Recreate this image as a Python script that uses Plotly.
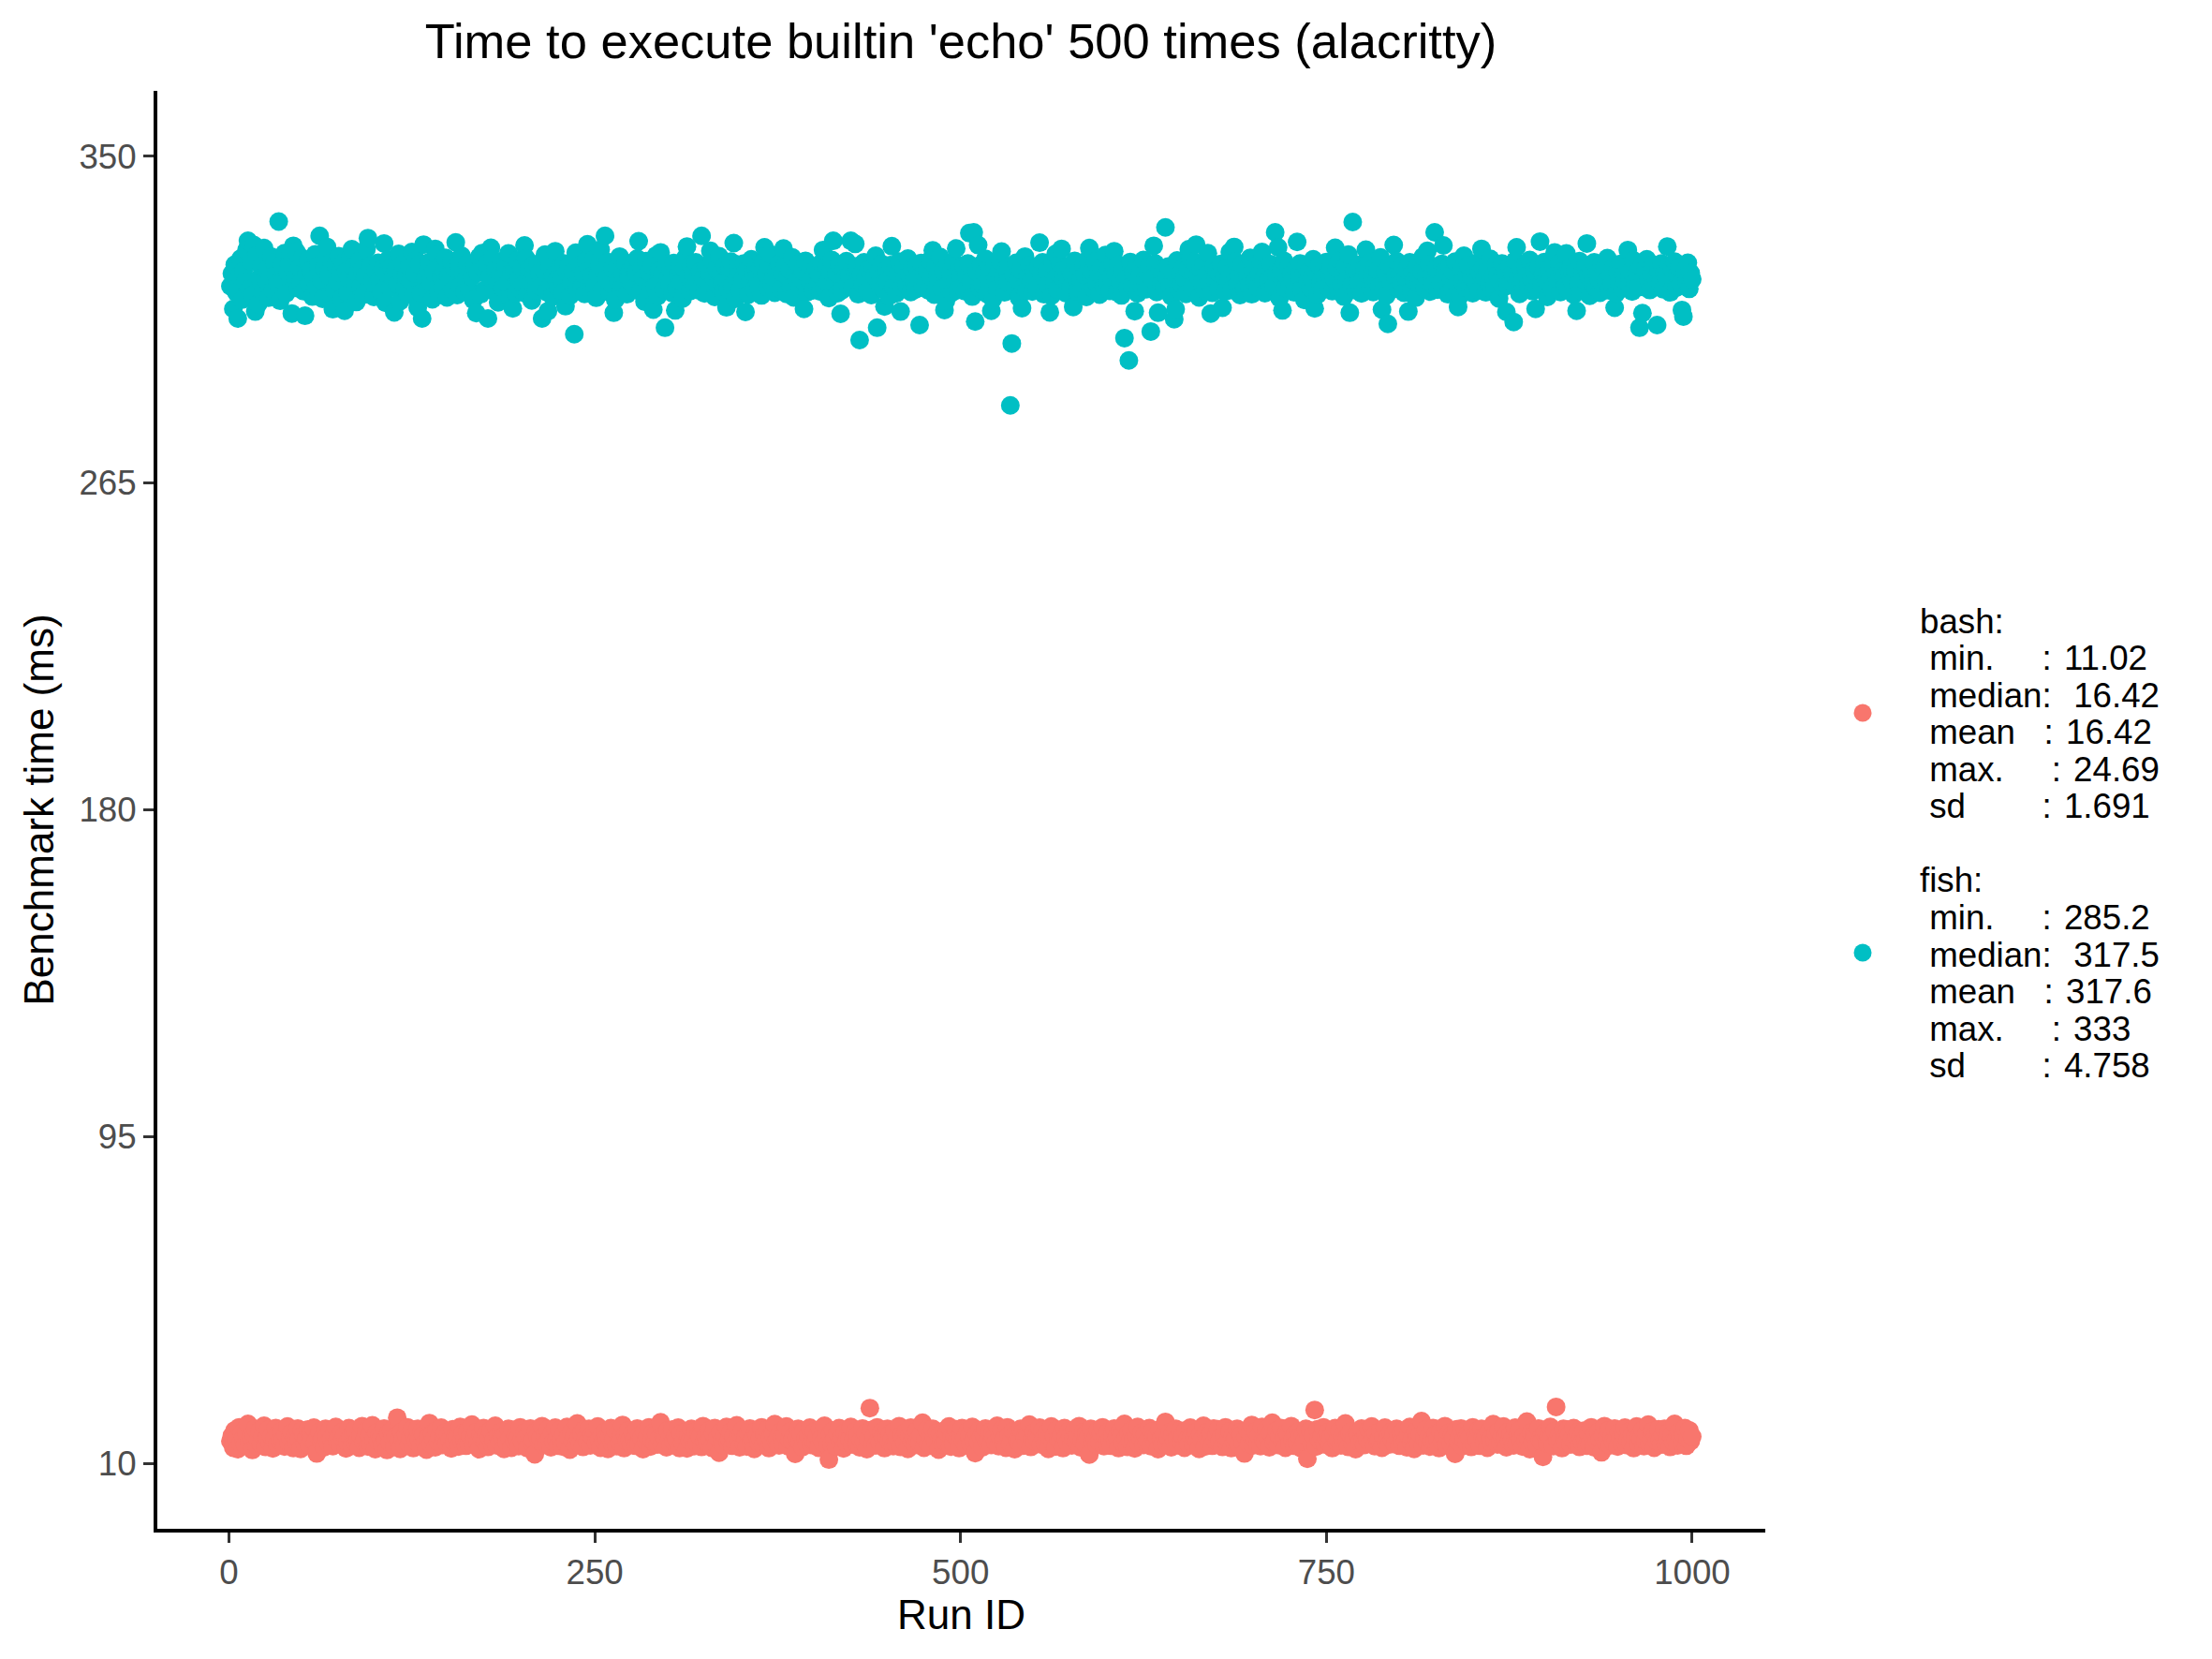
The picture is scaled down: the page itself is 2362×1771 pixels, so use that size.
import plotly.graph_objects as go

# ---------------------------------------------------------
# DATA (ms per run)
# ---------------------------------------------------------
TITLE = "Time to execute builtin 'echo' 500 times (alacritty)"

bash_ms = [
    15.8, 17.2, 14.1, 18.6, 16.3, 13.7, 19.4, 15.2, 17.9, 16.6, 14.8, 18.1, 20.3, 15.5, 16.9, 13.5, 17.6, 19.0, 14.6, 16.1, 18.4, 15.0, 17.3, 19.8, 14.3,
    16.7, 18.9, 15.4, 17.0, 13.9, 16.4, 19.2, 14.9, 17.7, 15.9, 18.3, 16.0, 14.4, 17.5, 19.6, 15.3, 16.8, 18.0, 14.0, 17.1, 15.7, 19.1, 16.2, 13.8, 18.5,
    17.4, 15.1, 16.5, 18.8, 14.7, 17.8, 16.1, 19.3, 15.6, 12.6, 17.2, 18.2, 15.9, 16.6, 14.2, 19.0, 17.0, 15.3, 18.6, 16.4, 14.5, 17.6, 19.5, 15.8, 16.9,
    14.9, 18.1, 16.3, 17.5, 13.9, 15.5, 19.2, 16.8, 14.6, 17.9, 18.7, 15.2, 16.0, 14.1, 17.3, 19.7, 15.6, 16.7, 18.4, 14.4, 17.1, 15.0, 19.9, 16.2, 13.7,
    18.0, 15.7, 17.4, 16.5, 14.8, 19.1, 16.0, 13.5, 17.8, 15.4, 18.5, 16.9, 14.3, 17.0, 21.9, 15.9, 13.8, 18.2, 16.4, 14.7, 17.6, 19.4, 15.1, 16.6, 18.8,
    14.0, 17.2, 15.8, 19.0, 16.1, 14.5, 18.3, 17.5, 15.3, 13.6, 16.8, 20.5, 15.0, 17.7, 16.3, 14.2, 18.6, 15.6, 17.1, 19.3, 14.8, 16.5, 18.0, 15.2, 17.4,
    16.0, 13.9, 18.9, 15.5, 17.3, 16.7, 14.4, 19.5, 15.9, 17.9, 16.2, 14.6, 18.4, 15.1, 17.0, 20.1, 14.9, 16.6, 18.1, 15.4, 13.7, 17.6, 16.4, 19.2, 15.7,
    17.8, 14.3, 16.9, 18.5, 15.0, 16.1, 19.8, 14.7, 17.2, 15.6, 18.2, 16.8, 13.8, 17.5, 15.3, 19.0, 16.5, 14.1, 18.7, 15.8, 17.1, 16.3, 14.5, 19.4, 16.0,
    15.2, 18.0, 16.7, 14.0, 17.7, 19.1, 15.5, 16.2, 12.4, 18.3, 17.0, 15.9, 16.6, 19.7, 14.8, 17.4, 15.1, 18.8, 16.4, 14.2, 17.9, 15.7, 19.3, 16.1, 14.6,
    18.6, 16.0, 14.4, 17.6, 15.4, 19.5, 16.9, 13.6, 18.1, 15.8, 17.3, 14.9, 20.4, 16.3, 15.0, 17.8, 14.3, 18.9, 16.5, 15.6, 19.0, 14.7, 17.2, 16.8, 18.4,
    15.3, 19.6, 16.1, 14.1, 17.5, 15.9, 18.2, 16.6, 13.8, 17.0, 19.2, 15.2, 16.4, 18.7, 14.5, 17.7, 15.5, 16.9, 20.0, 14.0, 17.3, 15.8, 18.5, 16.2, 14.8,
    17.9, 16.3, 14.6, 19.1, 15.1, 17.4, 16.7, 13.7, 18.3, 15.6, 17.1, 19.4, 14.4, 16.0, 18.0, 15.3, 17.6, 14.9, 16.5, 20.7, 15.0, 17.2, 16.8, 14.2, 18.6,
    16.4, 14.7, 18.8, 15.7, 17.0, 16.1, 19.3, 14.0, 17.8, 15.4, 16.6, 18.1, 13.9, 17.3, 15.9, 19.0, 16.2, 14.5, 18.4, 15.2, 17.5, 16.9, 14.3, 19.7, 15.8,
    17.1, 15.5, 18.5, 16.3, 14.1, 17.7, 19.2, 15.0, 16.7, 12.8, 18.0, 16.0, 14.8, 17.4, 19.5, 15.6, 16.4, 18.2, 14.6, 17.0, 15.3, 19.9, 16.6, 14.2, 17.6,
    18.7, 15.1, 16.8, 14.4, 17.9, 19.1, 15.7, 16.2, 13.8, 18.3, 17.2, 15.4, 16.5, 19.4, 14.9, 17.5, 16.0, 18.8, 14.0, 16.9, 15.2, 17.8, 20.2, 15.9, 16.3,
    14.7, 18.1, 16.6, 15.0, 17.3, 19.6, 14.5, 16.1, 18.4, 15.8, 17.0, 12.5, 16.7, 19.0, 15.5, 17.7, 14.3, 18.6, 16.4, 15.1, 17.4, 19.3, 14.8, 16.0, 18.2,
    15.6, 17.1, 14.1, 18.9, 16.5, 15.3, 19.8, 16.9, 14.6, 11.0, 17.6, 15.0, 18.5, 16.2, 14.4, 17.9, 19.2, 15.7, 16.8, 13.9, 18.0, 15.4, 17.2, 16.3, 19.5,
    14.9, 16.6, 18.3, 15.2, 17.5, 14.2, 16.0, 19.1, 15.9, 17.8, 13.7, 16.4, 24.4, 18.7, 15.1, 17.0, 14.7, 19.4, 16.1, 15.5, 18.1, 16.8, 14.0, 17.3, 19.0,
    15.8, 17.7, 16.2, 14.5, 18.6, 15.0, 16.9, 19.7, 14.3, 17.4, 16.5, 15.3, 18.2, 13.8, 17.1, 19.3, 15.6, 16.7, 14.8, 18.4, 16.0, 15.4, 17.6, 20.6, 14.1,
    16.3, 18.8, 15.1, 17.2, 14.6, 19.0, 16.6, 15.7, 18.0, 13.6, 17.5, 16.1, 14.9, 18.5, 15.5, 17.9, 19.6, 14.4, 16.8, 15.2, 17.3, 18.9, 16.4, 14.0, 17.0,
    19.2, 15.9, 16.5, 14.7, 18.3, 17.1, 15.0, 19.5, 16.2, 12.7, 17.8, 15.6, 18.6, 16.9, 14.2, 17.4, 19.1, 15.3, 16.0, 18.1, 14.8, 17.6, 16.7, 15.4, 19.8,
    14.5, 17.0, 18.7, 15.8, 16.3, 14.1, 19.4, 17.2, 15.1, 16.6, 18.4, 13.7, 17.7, 16.0, 15.5, 19.0, 14.6, 18.2, 16.8, 15.2, 17.5, 20.1, 14.3, 16.4, 18.0,
    15.7, 17.3, 16.1, 19.3, 14.9, 18.5, 16.5, 15.0, 17.9, 13.8, 16.9, 19.6, 15.4, 17.1, 14.4, 18.8, 16.2, 15.9, 17.6, 14.0, 19.2, 16.7, 15.3, 18.3, 17.0,
    14.7, 16.4, 18.9, 15.6, 17.4, 19.7, 14.2, 16.0, 18.1, 15.1, 17.8, 16.6, 12.3, 19.0, 15.8, 17.2, 16.3, 14.8, 18.6, 15.5, 17.7, 19.4, 14.5, 16.9, 15.2,
    18.2, 16.1, 14.6, 17.5, 19.1, 15.7, 16.8, 14.0, 18.4, 17.0, 15.3, 20.3, 16.5, 14.3, 17.9, 15.9, 18.7, 16.2, 13.9, 17.3, 19.5, 15.0, 16.7, 18.0, 14.8,
    17.6, 15.4, 16.0, 19.2, 14.5, 18.3, 16.9, 15.6, 17.1, 13.7, 18.8, 16.3, 14.9, 17.7, 20.8, 15.1, 16.6, 18.1, 14.2, 17.4, 15.8, 19.0, 16.4, 14.7, 18.5,
    15.5, 17.2, 14.1, 18.6, 16.2, 15.0, 19.3, 17.0, 14.8, 16.7, 18.2, 15.9, 13.8, 17.5, 16.1, 19.8, 14.4, 18.0, 16.5, 15.2, 17.8, 14.6, 19.1, 16.0, 17.3,
    18.9, 15.7, 16.8, 14.3, 17.6, 19.4, 15.3, 16.2, 18.4, 14.0, 17.1, 15.8, 16.6, 19.0, 14.9, 18.1, 17.4, 15.4, 12.6, 16.9, 18.7, 15.1, 17.7, 20.0, 14.7,
    16.4, 18.3, 15.0, 17.2, 14.5, 19.5, 16.0, 15.6, 18.8, 16.7, 14.2, 17.9, 20.6, 15.5, 16.3, 18.5, 14.8, 17.0, 19.2, 15.9, 16.6, 14.1, 18.0, 17.5, 15.2,
    19.7, 16.1, 14.6, 17.8, 15.4, 18.2, 16.9, 13.9, 17.3, 15.7, 19.0, 11.2, 16.5, 18.6, 15.0, 17.4, 23.9, 14.4, 18.9, 16.2, 15.8, 17.1, 19.4, 14.9, 16.7,
    18.1, 15.3, 16.8, 14.0, 17.6, 19.2, 15.6, 16.4, 18.5, 14.7, 17.0, 15.9, 20.4, 16.1, 14.3, 17.7, 18.3, 15.1, 16.6, 13.7, 18.0, 17.2, 15.5, 19.1, 16.0,
    14.8, 17.4, 16.3, 18.7, 15.2, 19.6, 16.9, 14.5, 17.8, 15.8, 16.2, 18.4, 14.1, 17.1, 19.3, 15.4, 16.7, 14.9, 18.1, 16.0, 17.5, 15.0, 19.0, 16.5, 14.6,
    17.9, 15.7, 18.6, 16.1, 14.2, 17.3, 19.5, 15.5, 16.8, 13.8, 18.2, 16.4, 15.1, 17.6, 21.0, 14.7, 16.6, 18.8, 15.3, 17.0, 14.4, 16.0, 19.2, 15.9, 17.7,
    16.3, 14.0, 18.3, 15.6, 17.2, 19.7, 14.8, 16.9, 18.0, 15.2, 17.4, 16.5, 12.5, 18.9, 15.8, 17.1, 19.1, 14.5, 16.2, 18.5, 15.4, 17.8, 16.7, 14.3, 19.4,
    15.0, 17.5, 16.1, 18.7, 14.6, 19.0, 16.8, 15.7, 17.3, 14.1, 18.2, 16.4, 15.3, 20.2, 16.0, 17.9, 14.9, 18.4, 15.5, 17.0, 19.6, 16.6, 14.2, 18.1, 15.9,
    17.6, 16.2, 14.7, 19.3, 15.1, 17.7, 18.6, 16.0, 14.4, 17.2, 15.8, 20.9, 16.5, 13.7, 18.0, 15.4, 17.4, 16.9, 14.8, 19.1, 16.3, 15.6, 11.7, 17.8, 18.3,
    15.2, 17.0, 19.5, 16.7, 14.5, 18.4, 24.7, 15.9, 17.3, 16.1, 14.0, 19.0, 16.6, 15.3, 18.8, 17.5, 14.9, 16.4, 19.2, 15.7, 17.1, 18.1, 14.3, 16.8, 15.5,
    18.5, 16.2, 14.6, 17.9, 15.0, 19.4, 16.9, 14.2, 17.6, 15.8, 18.2, 16.3, 12.9, 17.2, 19.7, 15.4, 16.7, 18.6, 14.7, 17.0, 15.6, 19.1, 16.0, 14.4, 18.0,
    16.5, 15.1, 17.7, 19.3, 14.8, 16.1, 18.3, 15.5, 17.4, 14.0, 16.8, 19.6, 15.3, 17.1, 16.4, 18.7, 14.5, 15.9, 17.8, 20.1, 15.2, 16.6, 18.4, 14.1, 17.3,
    15.7, 18.9, 16.2, 14.9, 17.5, 19.0, 15.0, 16.7, 18.1, 14.3, 17.2, 15.6, 20.3, 16.0, 14.7, 18.2, 16.9, 15.4, 17.6, 19.2, 14.6, 16.3, 18.6, 15.8, 17.0,
]

fish_ms = [
    316.2, 319.5, 310.3, 321.8, 314.6, 307.8, 318.9, 323.4, 312.7, 320.1, 317.3, 325.6, 328.0, 315.4, 322.7, 313.9, 326.9, 309.6, 324.2, 311.6, 318.4, 321.3, 314.8, 326.1, 317.9,
    320.6, 313.2, 318.7, 323.9, 315.1, 322.4, 319.2, 316.8, 333.0, 312.4, 321.7, 317.6, 324.8, 314.3, 319.9, 322.1, 324.9, 309.1, 326.7, 318.3, 325.2, 315.7, 321.0, 317.1, 323.5,
    314.9, 308.5, 319.4, 322.9, 316.6, 320.3, 313.5, 318.1, 324.5, 315.9, 321.5, 329.3, 317.8, 312.9, 320.9, 323.1, 326.4, 319.0, 314.1, 322.6, 310.2, 315.3, 321.9, 317.4, 324.0,
    319.6, 313.0, 322.2, 309.8, 320.0, 314.5, 318.2, 323.7, 325.8, 321.2, 317.0, 312.1, 319.7, 322.8, 316.1, 320.5, 314.0, 318.8, 325.9, 328.7, 315.2, 321.6, 317.5, 313.4, 320.2,
    316.4, 322.3, 318.0, 314.7, 320.7, 327.3, 311.9, 319.3, 323.2, 315.8, 321.1, 318.5, 309.4, 320.4, 316.7, 324.6, 312.3, 319.1, 322.0, 315.5, 318.9, 314.2, 321.4, 317.7, 325.1,
    313.8, 319.5, 323.0, 310.6, 321.8, 314.4, 307.8, 327.0, 318.3, 315.0, 320.6, 322.5, 316.9, 312.8, 319.8, 325.9, 324.3, 314.6, 321.3, 318.7, 315.9, 320.1, 323.6, 313.3, 319.0,
    317.4, 322.7, 315.2, 320.9, 327.6, 313.9, 321.6, 316.3, 324.1, 319.4, 314.8, 317.9, 322.2, 315.6, 320.3, 318.6, 312.6, 321.0, 309.2, 319.7, 323.8, 314.1, 324.8, 320.8, 315.3,
    321.9, 307.8, 318.4, 326.2, 323.3, 314.9, 320.5, 317.6, 312.0, 319.2, 322.4, 315.7, 318.8, 321.5, 316.8, 324.7, 313.1, 319.9, 310.4, 320.2, 314.3, 322.9, 318.0, 315.4, 321.1,
    316.6, 326.8, 323.5, 314.0, 320.7, 317.3, 312.5, 321.7, 318.5, 315.1, 322.0, 319.6, 316.1, 307.8, 320.4, 324.4, 314.7, 309.7, 321.2, 316.4, 313.5, 319.0, 325.3, 317.8, 315.8,
    320.9, 318.3, 314.5, 322.1, 311.0, 319.8, 321.4, 313.7, 317.2, 320.0, 303.7, 324.9, 315.5, 318.7, 321.8, 316.0, 319.4, 314.2, 322.8, 327.1, 320.6, 315.0, 318.9, 323.1, 316.3,
    313.2, 319.1, 321.6, 325.7, 315.3, 320.3, 329.3, 318.2, 322.5, 314.6, 316.9, 320.8, 309.3, 312.7, 321.0, 317.4, 323.9, 315.7, 319.5, 316.2, 322.3, 314.1, 318.6, 320.1, 317.0,
    321.3, 315.9, 319.7, 323.4, 327.9, 314.8, 320.5, 318.4, 312.2, 322.7, 317.1, 319.9, 315.2, 321.5, 310.1, 316.1, 324.2, 313.6, 320.2, 325.0, 319.2, 315.4, 305.4, 321.9, 318.1,
    316.8, 320.4, 314.4, 322.2, 309.9, 315.6, 319.0, 321.1, 317.3, 313.0, 320.7, 323.6, 326.5, 318.9, 314.9, 321.7, 319.3, 316.0, 322.4, 317.9, 315.1, 320.0, 329.3, 318.3, 314.3,
    321.2, 317.5, 319.8, 325.4, 322.9, 318.7, 313.4, 320.6, 316.6, 324.0, 319.4, 317.0, 314.7, 321.4, 310.7, 315.5, 320.9, 322.6, 316.2, 327.4, 312.9, 317.8, 321.8, 315.0, 319.6,
    318.0, 322.1, 309.5, 320.3, 314.0, 317.4, 323.2, 319.7, 315.3, 321.0, 318.6, 316.3, 320.8, 313.8, 322.5, 326.3, 319.5, 315.9, 321.6, 324.5, 316.9, 318.4, 314.5, 320.1, 317.7,
    322.0, 315.4, 319.9, 326.0, 321.3, 314.2, 318.8, 320.5, 316.0, 323.7, 313.3, 319.2, 317.6, 321.9, 315.7, 318.1, 320.2, 310.3, 322.8, 314.6, 319.0, 317.3, 321.5, 315.1, 318.9,
    320.7, 316.1, 319.4, 314.8, 322.3, 325.6, 315.6, 321.2, 317.0, 313.1, 320.0, 323.0, 328.0, 316.8, 319.6, 314.4, 321.8, 309.0, 315.2, 320.4, 318.5, 322.7, 316.4, 319.1, 328.0,
    315.9, 320.9, 327.2, 321.4, 314.1, 302.2, 319.3, 316.7, 322.4, 318.0, 315.0, 320.6, 317.2, 313.9, 321.1, 318.7, 324.1, 305.4, 319.8, 316.3, 322.0, 315.5, 310.9, 320.3, 317.4,
    313.6, 321.7, 326.6, 316.0, 320.1, 314.3, 319.5, 322.6, 309.6, 315.8, 321.0, 318.4, 316.6, 323.4, 319.2, 314.7, 320.8, 317.7, 315.3, 321.5, 318.1, 306.1, 322.2, 316.2, 319.7,
    317.0, 320.5, 315.1, 322.9, 318.6, 325.5, 314.0, 321.3, 319.0, 317.5, 323.8, 315.6, 320.2, 310.0, 312.4, 321.9, 316.8, 319.4, 314.5, 322.5, 317.3, 326.0, 315.2, 320.7, 318.8,
    316.1, 321.6, 314.9, 319.1, 322.1, 330.0, 317.6, 313.5, 330.2, 307.0, 320.0, 326.9, 315.7, 321.8, 316.5, 319.6, 323.3, 314.2, 318.0, 320.9, 309.8, 312.8, 321.2, 317.9, 315.4,
    319.9, 322.7, 325.2, 318.5, 314.6, 320.6, 317.2, 321.4, 285.2, 301.3, 319.3, 315.9, 322.3, 317.8, 313.2, 320.4, 310.5, 316.0, 323.9, 315.1, 319.0, 321.7, 317.4, 314.8, 320.1,
    318.1, 315.6, 321.1, 327.5, 319.8, 322.4, 314.1, 317.9, 320.3, 316.4, 309.4, 313.7, 321.9, 317.3, 324.6, 315.3, 319.5, 322.0, 325.9, 318.4, 320.8, 314.4, 317.1, 321.3, 315.8,
    319.2, 310.8, 322.8, 318.2, 314.9, 320.5, 317.7, 315.2, 321.5, 319.1, 313.4, 323.1, 326.1, 318.8, 320.0, 315.5, 322.6, 317.0, 319.7, 314.0, 321.0, 318.3, 316.1, 324.3, 317.6,
    320.7, 315.0, 318.6, 322.2, 325.3, 319.4, 314.6, 321.8, 317.5, 313.8, 320.2, 302.7, 318.0, 315.7, 296.9, 322.5, 316.3, 319.9, 309.7, 321.2, 314.3, 318.5, 320.9, 316.0, 323.0,
    317.8, 315.4, 319.3, 321.6, 304.4, 318.1, 326.7, 322.1, 314.7, 309.3, 320.4, 317.0, 319.6, 315.9, 331.5, 318.7, 321.3, 316.2, 313.6, 320.0, 307.6, 310.2, 322.9, 315.3, 319.1,
    316.7, 321.0, 318.2, 314.2, 320.6, 325.8, 323.5, 315.8, 319.8, 322.3, 327.0, 318.9, 313.3, 320.8, 317.1, 321.7, 315.1, 319.2, 324.8, 316.9, 309.1, 314.5, 321.4, 317.7, 320.1,
    315.6, 319.5, 322.0, 310.6, 318.6, 314.8, 321.1, 317.3, 325.1, 315.2, 320.3, 326.4, 322.6, 316.6, 319.0, 313.9, 321.8, 317.9, 315.5, 320.5, 318.8, 316.3, 323.6, 314.1, 319.7,
    317.2, 321.5, 315.9, 319.3, 322.4, 325.1, 318.1, 314.4, 320.9, 317.6, 315.0, 321.9, 318.5, 316.1, 330.2, 319.6, 326.3, 313.1, 320.2, 309.9, 322.8, 315.7, 318.7, 321.2, 316.5,
    319.4, 317.8, 314.6, 320.7, 327.7, 318.9, 322.1, 315.3, 319.0, 312.6, 321.4, 317.4, 320.0, 315.8, 318.3, 323.2, 310.4, 319.8, 314.0, 321.6, 317.1, 315.4, 320.4, 318.6, 322.5,
    316.0, 319.2, 321.0, 314.9, 318.2, 326.2, 320.8, 315.6, 322.9, 316.9, 319.5, 313.5, 321.3, 317.9, 324.4, 309.3, 316.3, 332.9, 320.1, 315.1, 319.7, 317.2, 321.8, 314.3, 318.0,
    320.6, 325.7, 319.1, 322.2, 315.9, 318.7, 314.7, 321.1, 317.6, 320.3, 316.1, 323.7, 310.1, 315.2, 319.9, 313.8, 306.4, 321.5, 317.3, 320.9, 326.9, 318.8, 322.7, 315.5, 319.3,
    317.0, 321.7, 314.5, 318.5, 320.5, 309.6, 322.4, 315.0, 319.6, 317.7, 313.2, 321.2, 318.2, 316.2, 320.0, 323.9, 315.7, 319.0, 325.4, 321.9, 314.8, 318.9, 316.5, 330.2, 320.7,
    315.3, 319.4, 317.1, 322.0, 326.8, 320.2, 318.4, 314.1, 321.4, 317.8, 315.6, 319.8, 322.6, 316.7, 310.8, 313.6, 320.8, 317.2, 324.1, 315.8, 319.2, 321.6, 316.3, 318.6, 314.4,
    320.4, 317.5, 322.3, 315.1, 319.7, 325.9, 321.0, 318.3, 314.6, 320.6, 317.0, 323.3, 315.4, 318.8, 316.1, 321.8, 319.1, 313.0, 317.6, 322.1, 315.9, 320.1, 309.5, 316.4, 321.3,
    317.3, 319.5, 306.9, 322.8, 326.3, 318.5, 314.2, 320.9, 317.9, 315.2, 321.5, 319.0, 316.2, 323.0, 318.2, 314.9, 320.3, 310.3, 315.7, 321.2, 327.8, 316.8, 319.4, 322.5, 317.7,
    313.4, 320.7, 318.0, 315.5, 321.9, 325.0, 319.3, 317.4, 322.2, 314.7, 320.0, 318.7, 316.0, 324.7, 315.3, 319.8, 321.1, 317.2, 314.0, 320.5, 309.8, 316.7, 322.7, 315.0, 319.1,
    317.8, 321.4, 327.3, 318.9, 313.7, 320.2, 317.0, 322.4, 315.8, 319.6, 318.1, 314.5, 321.7, 316.5, 320.8, 317.5, 323.5, 315.1, 319.0, 316.9, 321.0, 310.6, 314.3, 320.4, 317.1,
    322.0, 315.6, 319.2, 317.6, 321.6, 325.6, 318.6, 320.0, 314.8, 322.9, 317.3, 319.7, 315.9, 305.4, 321.2, 309.2, 316.0, 320.6, 323.2, 317.9, 315.2, 319.4, 321.8, 316.6, 318.2,
    306.1, 320.3, 317.0, 322.1, 315.4, 319.9, 318.4, 326.5, 321.4, 314.6, 320.7, 317.7, 322.6, 315.8, 319.1, 321.0, 316.8, 310.0, 308.3, 320.2, 317.2, 322.3, 315.5, 319.6, 318.0,
]

bash_run = list(range(1, len(bash_ms) + 1))
fish_run = list(range(1, len(fish_ms) + 1))

x_ticks = [0, 250, 500, 750, 1000]
y_ticks = [10, 95, 180, 265, 350]

# legend text, one entry per line ("~" = hair space, as spaced in the original)
bash_lines = ["bash:", " min.     : ~11.02", " median:  ~16.42", " mean   : ~16.42",
              " max.     : ~24.69", " sd        : ~1.691"]
fish_lines = ["fish:", " min.     : ~285.2", " median:  ~317.5", " mean   : ~317.6",
              " max.     : ~333", " sd        : ~4.758"]

BASH_COL = "#F8766D"
FISH_COL = "#00BFC4"
FONT = "Liberation Sans, Arial, Helvetica, sans-serif"

# ---------------------------------------------------------
# FIGURE
# ---------------------------------------------------------
W, H = 2362, 1771
L, R, T, B = 168, 477, 97, 139
pw, ph = W - L - R, H - T - B

fig = go.Figure()
fig.add_trace(go.Scatter(x=bash_run, y=bash_ms, mode="markers", name="bash",
                         marker=dict(color=BASH_COL, size=20, line=dict(width=0))))
fig.add_trace(go.Scatter(x=fish_run, y=fish_ms, mode="markers", name="fish",
                         marker=dict(color=FISH_COL, size=20, line=dict(width=0))))

axis_common = dict(showgrid=False, zeroline=False, showline=True, linecolor="black",
                   linewidth=4, ticks="outside", ticklen=11, tickwidth=3, automargin=False,
                   tickcolor="#333333", tickfont=dict(size=36.7, color="#4D4D4D", family=FONT))

fig.update_xaxes(range=[-48.95, 1049.95], tickvals=x_ticks, **axis_common,
                 title=dict(text="Run ID", font=dict(size=44, color="black", family=FONT), standoff=6))
fig.update_yaxes(range=[-7, 367], tickvals=y_ticks, **axis_common,
                 title=dict(text="Benchmark time (ms)", font=dict(size=44, color="black", family=FONT), standoff=14))


# page pixel -> paper fraction
def px_x(px):
    return (px - L) / pw


def px_y(py):
    return (T + ph - py) / ph


# hand-built legend: keys as circles, labels line by line
annotations = []
shapes = []
LINE_STEP = 39.5
for lines, key_y, top_y, col in [(bash_lines, 761, 663, BASH_COL), (fish_lines, 1017, 940, FISH_COL)]:
    shapes.append(dict(type="circle", xref="paper", yref="paper", xsizemode="pixel", ysizemode="pixel",
                       xanchor=px_x(1989), yanchor=px_y(key_y), x0=-9.5, x1=9.5, y0=-9.5, y1=9.5,
                       fillcolor=col, line=dict(width=0)))
    for k, txt in enumerate(lines):
        txt = txt.replace(" ", "\u00a0").replace("~", "\u200a")
        annotations.append(dict(text=txt, xref="paper", yref="paper",
                                x=px_x(2048), y=px_y(top_y + k * LINE_STEP), xanchor="left",
                                yanchor="middle", showarrow=False,
                                font=dict(size=36.7, color="black", family=FONT)))

fig.update_layout(
    width=W, height=H,
    margin=dict(l=L, r=R, t=T, b=B),
    title=dict(text=TITLE, x=1026 / W, xanchor="center", y=1 - 44 / H, yanchor="middle",
               yref="container", font=dict(size=52.5, color="black", family=FONT)),
    plot_bgcolor="white", paper_bgcolor="white",
    showlegend=False,
    annotations=annotations,
    shapes=shapes,
    font=dict(family=FONT),
)

# the page should hold the figure edge to edge, without the mode bar
fig.write_html("out.html", config={"displayModeBar": False},
               post_script="document.body.style.margin = '0px';")
